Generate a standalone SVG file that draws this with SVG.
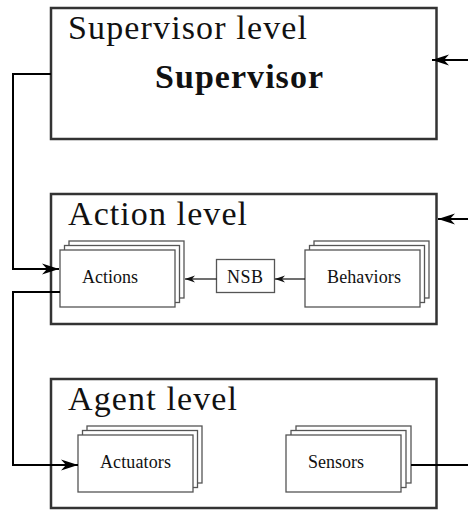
<svg xmlns="http://www.w3.org/2000/svg" width="468" height="510" viewBox="0 0 468 510">
  <style>
    .level { fill: #fff; stroke: #333; stroke-width: 2.5; }
    .card { fill: #fff; stroke: #555; stroke-width: 1.3; }
    text { font-family: "Liberation Serif", "Times New Roman", serif; fill: #111; }
    .title { font-size: 34px; }
    .head { font-size: 34px; font-weight: bold; }
    .label { font-size: 18px; }
    .wire { fill: none; stroke: #000; stroke-width: 2; }
    .thin { fill: none; stroke: #111; stroke-width: 1.2; }
  </style>
  <defs>
    <!-- stealth-style arrowheads, tip at the path end -->
    <marker id="big" markerUnits="userSpaceOnUse" viewBox="-18 -6 19 12" markerWidth="19" markerHeight="12" refX="0" refY="0" orient="auto">
      <path d="M0,0 L-17,-5.5 L-12,0 L-17,5.5 Z" fill="#000"/>
    </marker>
    <marker id="small" markerUnits="userSpaceOnUse" viewBox="-11 -4 12 8" markerWidth="12" markerHeight="8" refX="0" refY="0" orient="auto">
      <path d="M0,0 L-10,-3.5 L-7,0 L-10,3.5 Z" fill="#111"/>
    </marker>
  </defs>

  <!-- Supervisor level -->
  <g id="supervisor-level">
    <rect class="level" x="51" y="8" width="385.5" height="131"/>
    <text class="title" x="68" y="39" textLength="239">Supervisor level</text>
    <text class="head" x="155" y="88" textLength="168">Supervisor</text>
  </g>

  <!-- Action level -->
  <g id="action-level">
    <rect class="level" x="51" y="194" width="385.5" height="130"/>
    <text class="title" x="68" y="225" textLength="179">Action level</text>
  </g>

  <g id="actions">
    <rect class="card" x="69" y="241" width="115" height="57"/>
    <rect class="card" x="64.5" y="245.5" width="115" height="57"/>
    <rect class="card" x="60" y="250" width="115" height="57"/>
    <text class="label" x="82" y="283" textLength="56">Actions</text>
  </g>

  <g id="nsb">
    <rect class="card" x="216.5" y="259.5" width="58" height="33"/>
    <text class="label" x="227" y="283" textLength="36">NSB</text>
  </g>

  <g id="behaviors">
    <rect class="card" x="314" y="241" width="115" height="57"/>
    <rect class="card" x="309.5" y="245.5" width="115" height="57"/>
    <rect class="card" x="305" y="250" width="115" height="57"/>
    <text class="label" x="327" y="283" textLength="74">Behaviors</text>
  </g>

  <!-- Agent level -->
  <g id="agent-level">
    <rect class="level" x="51" y="379" width="385.5" height="129"/>
    <text class="title" x="68" y="410" textLength="169">Agent level</text>
  </g>

  <g id="actuators">
    <rect class="card" x="87" y="426" width="115" height="57"/>
    <rect class="card" x="82.5" y="430.5" width="115" height="57"/>
    <rect class="card" x="78" y="435" width="115" height="57"/>
    <text class="label" x="100" y="468" textLength="71">Actuators</text>
  </g>

  <g id="sensors">
    <rect class="card" x="296" y="426" width="115" height="57"/>
    <rect class="card" x="291" y="430.5" width="115" height="57"/>
    <rect class="card" x="286" y="435" width="115" height="57"/>
    <text class="label" x="308" y="468" textLength="56">Sensors</text>
  </g>

  <!-- Connectors -->
  <g id="connectors">
    <path class="wire" d="M51,74 H13 V269 H59" marker-end="url(#big)"/>
    <path class="wire" d="M60,292 H13 V465 H78" marker-end="url(#big)"/>
    <path class="wire" d="M468,60 H432" marker-end="url(#big)"/>
    <path class="wire" d="M468,219 H438" marker-end="url(#big)"/>
    <path class="wire" d="M411,465 H468"/>
    <path class="thin" d="M216.5,279 H185" marker-end="url(#small)"/>
    <path class="thin" d="M305,279 H275" marker-end="url(#small)"/>
  </g>
</svg>
